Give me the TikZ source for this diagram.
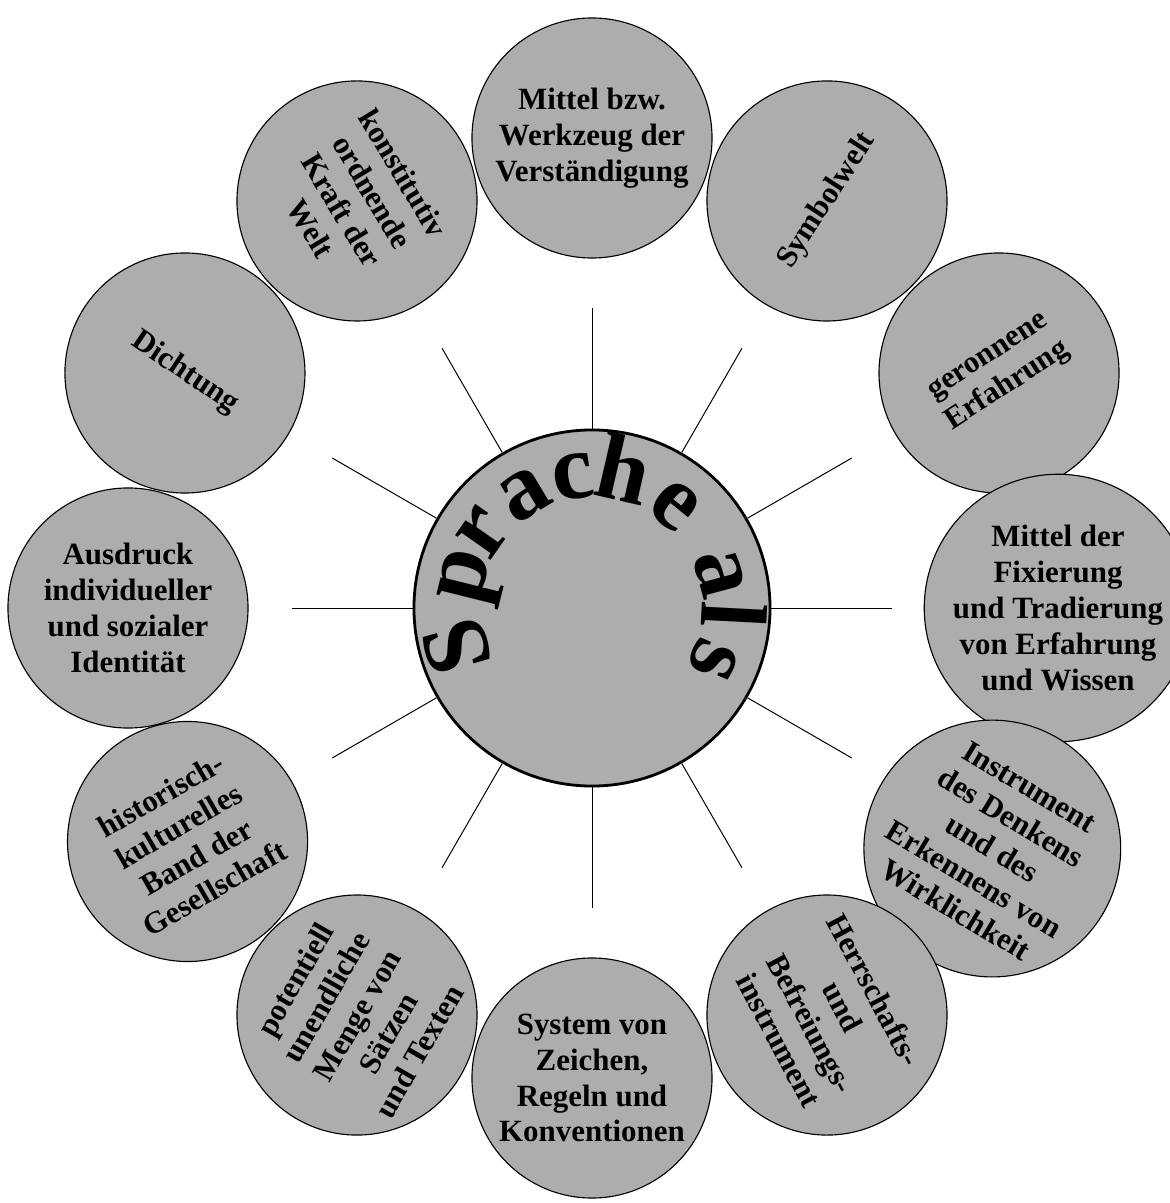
\documentclass[tikz,border=0pt]{standalone}
\usepackage{fontspec}
\setmainfont{Liberation Serif}
\begin{document}
\begin{tikzpicture}[x=0.025cm,y=0.025cm,bubble/.style={circle,draw=black,line width=0.8pt,fill=black!32,minimum size=6cm,inner sep=0pt,align=center,font=\bfseries\fontsize{22}{25.5}\selectfont},ray/.style={line width=0.7pt},glyph/.style={anchor=base,inner sep=0pt,font=\bfseries\fontsize{67}{67}\selectfont}]
\useasboundingbox (-592,-595) rectangle (578,608);
\node[circle,draw=black,line width=2pt,fill=black!32,minimum size=8.9cm] (SA) at (0,0) {};
\foreach \a in {0,30,...,330}{\coordinate (r\a) at (\a:300); \draw[ray] (SA.\a) -- (r\a);}
% Sprache als, letter by letter round the core
\foreach \l/\w [count=\i] in {S/196,p/166,r/145,a/121,c/98,h/77,e/51,a/15,l/-3,s/-23}{\node[glyph,rotate=\w-90] (L\i) at (\w:110) {\l};}
\node[bubble] (MW) at (90:470) {Mittel bzw.\\Werkzeug der\\Verständigung};
\node[bubble,rotate=57] (SW) at (60:470) {Symbolwelt};
\node[bubble,rotate=33] (GE) at (30:470) {geronnene\\Erfahrung};
\node[bubble] (MF) at (0:466) {Mittel der\\Fixierung\\und Tradierung\\von Erfahrung\\und Wissen};
\node[bubble,rotate=-31] (ID) at (-31:467) {Instrument\\des Denkens\\und des\\Erkennens von\\Wirklichkeit};
\node[bubble,rotate=-62] (HB) at (-60:470) {Herrschafts-\\und\\Befreiungs-\\instrument};
\node[bubble] (SZ) at (-90:470) {System von\\Zeichen,\\Regeln und\\Konventionen};
\node[bubble,rotate=60] (PM) at (240:470) {potentiell\\unendliche\\Menge von\\Sätzen\\und Texten};
\node[bubble,rotate=30] (HK) at (210:467) {historisch-\\kulturelles\\Band der\\Gesellschaft};
\node[bubble] (AI) at (180:464) {Ausdruck\\individueller\\und sozialer\\Identität};
\node[bubble,rotate=-34] (D) at (150:470) {Dichtung};
\node[bubble,rotate=-59] (KW) at (120:470) {konstitutiv\\ordnende\\Kraft der\\Welt};
\end{tikzpicture}
\end{document}
